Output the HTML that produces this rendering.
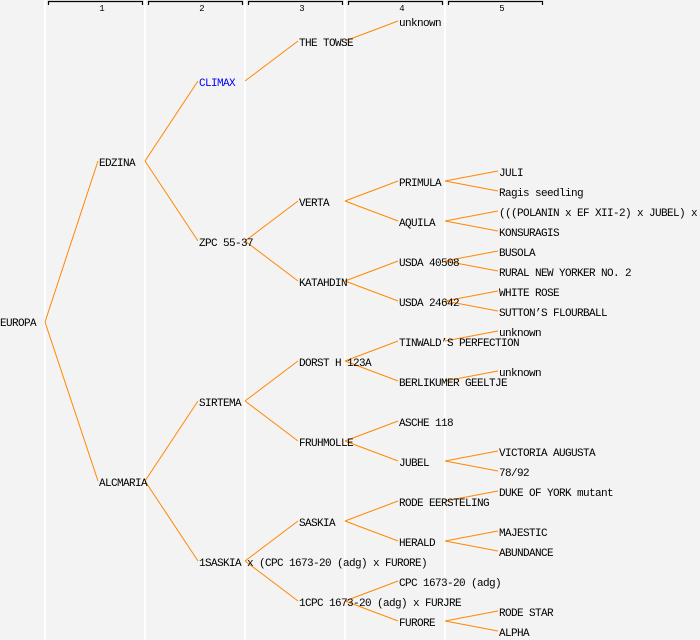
<!DOCTYPE html>
<html><head><meta charset="utf-8"><style>
html,body{margin:0;padding:0;background:#f3f3f3;}
svg{display:block;}
text{font-family:"Liberation Mono","DejaVu Sans Mono",monospace;font-size:11px;letter-spacing:-0.6px;fill:#000;}
.h{font-size:9px;letter-spacing:0;text-anchor:middle;}
</style></head><body>
<svg width="700" height="640" xmlns="http://www.w3.org/2000/svg">
<rect width="700" height="640" fill="#f3f3f3"/>
<g stroke="#ffffff" stroke-width="2">
<line x1="45" y1="0" x2="45" y2="640"/><line x1="145" y1="0" x2="145" y2="640"/>
<line x1="245" y1="0" x2="245" y2="640"/><line x1="345" y1="0" x2="345" y2="640"/>
<line x1="445" y1="0" x2="445" y2="640"/>
</g>
<g stroke="#000" stroke-width="1.2" fill="none">
<path d="M48.5 5V1.5H142.5V5"/><path d="M148.5 5V1.5H242.5V5"/><path d="M248.5 5V1.5H342.5V5"/>
<path d="M348.5 5V1.5H442.5V5"/><path d="M448.5 5V1.5H542.5V5"/>
</g>
<text class="h" x="102" y="11">1</text><text class="h" x="202" y="11">2</text><text class="h" x="302" y="11">3</text><text class="h" x="402" y="11">4</text><text class="h" x="502" y="11">5</text>
<g stroke="#ff8800" stroke-width="1" fill="none">
<line x1="45" y1="322" x2="98" y2="161"/><line x1="45" y1="322" x2="98" y2="481"/>
<line x1="145" y1="161" x2="198" y2="81"/><line x1="145" y1="161" x2="198" y2="241"/>
<line x1="145" y1="481" x2="198" y2="401"/><line x1="145" y1="481" x2="198" y2="561"/>
<line x1="245" y1="81" x2="298" y2="41"/>
<line x1="245" y1="241" x2="298" y2="201"/><line x1="245" y1="241" x2="298" y2="281"/>
<line x1="245" y1="401" x2="298" y2="361"/><line x1="245" y1="401" x2="298" y2="441"/>
<line x1="245" y1="561" x2="298" y2="521"/><line x1="245" y1="561" x2="298" y2="601"/>
<line x1="345" y1="41" x2="398" y2="21"/>
<line x1="345" y1="201" x2="398" y2="181"/><line x1="345" y1="201" x2="398" y2="221"/>
<line x1="345" y1="281" x2="398" y2="261"/><line x1="345" y1="281" x2="398" y2="301"/>
<line x1="345" y1="361" x2="398" y2="341"/><line x1="345" y1="361" x2="398" y2="381"/>
<line x1="345" y1="441" x2="398" y2="421"/><line x1="345" y1="441" x2="398" y2="461"/>
<line x1="345" y1="521" x2="398" y2="501"/><line x1="345" y1="521" x2="398" y2="541"/>
<line x1="345" y1="601" x2="398" y2="581"/><line x1="345" y1="601" x2="398" y2="621"/>
<line x1="445" y1="181" x2="498" y2="171"/><line x1="445" y1="181" x2="498" y2="191"/>
<line x1="445" y1="221" x2="498" y2="211"/><line x1="445" y1="221" x2="498" y2="231"/>
<line x1="445" y1="261" x2="498" y2="251"/><line x1="445" y1="261" x2="498" y2="271"/>
<line x1="445" y1="301" x2="498" y2="291"/><line x1="445" y1="301" x2="498" y2="311"/>
<line x1="445" y1="341" x2="498" y2="331"/><line x1="445" y1="381" x2="498" y2="371"/>
<line x1="445" y1="461" x2="498" y2="451"/><line x1="445" y1="461" x2="498" y2="471"/>
<line x1="445" y1="501" x2="498" y2="491"/>
<line x1="445" y1="541" x2="498" y2="531"/><line x1="445" y1="541" x2="498" y2="551"/>
<line x1="445" y1="621" x2="498" y2="611"/><line x1="445" y1="621" x2="498" y2="631"/>
</g>
<text x="0" y="326">EUROPA</text>
<text x="99" y="166">EDZINA</text>
<text x="99" y="486">ALCMARIA</text>
<text x="199" y="86" style="fill:#0000ff">CLIMAX</text>
<text x="199" y="246">ZPC 55-37</text>
<text x="199" y="406">SIRTEMA</text>
<text x="199" y="566">1SASKIA x (CPC 1673-20 (adg) x FURORE)</text>
<text x="299" y="46">THE TOWSE</text>
<text x="299" y="206">VERTA</text>
<text x="299" y="286">KATAHDIN</text>
<text x="299" y="366">DORST H 123A</text>
<text x="299" y="446">FRUHMOLLE</text>
<text x="299" y="526">SASKIA</text>
<text x="299" y="606">1CPC 1673-20 (adg) x FURJRE</text>
<text x="399" y="26">unknown</text>
<text x="399" y="186">PRIMULA</text>
<text x="399" y="226">AQUILA</text>
<text x="399" y="266">USDA 40508</text>
<text x="399" y="306">USDA 24642</text>
<text x="399" y="346">TINWALD’S PERFECTION</text>
<text x="399" y="386">BERLIKUMER GEELTJE</text>
<text x="399" y="426">ASCHE 118</text>
<text x="399" y="466">JUBEL</text>
<text x="399" y="506">RODE EERSTELING</text>
<text x="399" y="546">HERALD</text>
<text x="399" y="586">CPC 1673-20 (adg)</text>
<text x="399" y="626">FURORE</text>
<text x="499" y="176">JULI</text>
<text x="499" y="196">Ragis seedling</text>
<text x="499" y="216">(((POLANIN x EF XII-2) x JUBEL) x</text>
<text x="499" y="236">KONSURAGIS</text>
<text x="499" y="256">BUSOLA</text>
<text x="499" y="276">RURAL NEW YORKER NO. 2</text>
<text x="499" y="296">WHITE ROSE</text>
<text x="499" y="316">SUTTON’S FLOURBALL</text>
<text x="499" y="336">unknown</text>
<text x="499" y="376">unknown</text>
<text x="499" y="456">VICTORIA AUGUSTA</text>
<text x="499" y="476">78/92</text>
<text x="499" y="496">DUKE OF YORK mutant</text>
<text x="499" y="536">MAJESTIC</text>
<text x="499" y="556">ABUNDANCE</text>
<text x="499" y="616">RODE STAR</text>
<text x="499" y="636">ALPHA</text>
</svg>
</body></html>
